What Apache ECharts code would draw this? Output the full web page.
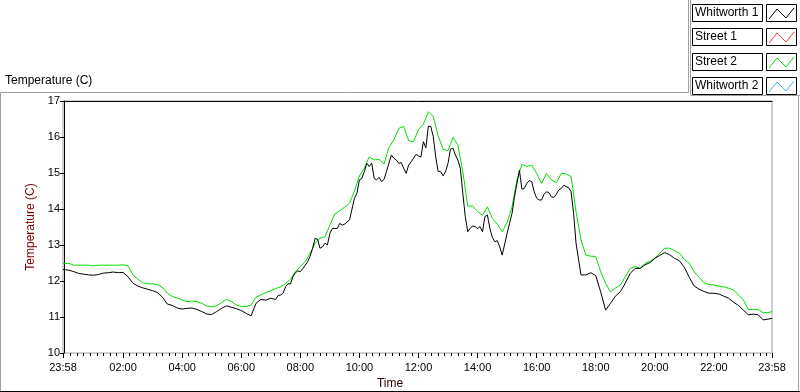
<!DOCTYPE html>
<html>
<head>
<meta charset="utf-8">
<script src="https://cdn.jsdelivr.net/npm/echarts@6/dist/echarts.min.js"></script>
<style>
html,body{margin:0;padding:0;background:#fff;}
#chart{width:800px;height:392px;}
</style>
</head>
<body>
<div id="chart"></div>
<script>
// Time in minutes after midnight (-2 = 23:58 of previous day, 1438 = 23:58)
const street2Times = [-2,0,10,20,30,40,50,60,70,80,90,100,110,120,130,140,150,160,170,180,190,200,210,220,230,240,250,260,270,280,290,300,310,320,330,340,350,360,370,380,390,400,410,420,430,440,450,460,470,480,490,500,510,520,530,540,550,560,570,580,590,600,610,620,630,640,650,660,670,680,690,700,710,720,730,740,750,760,770,780,790,800,810,820,830,840,850,860,870,880,890,900,910,920,930,940,950,960,970,980,990,1000,1010,1020,1030,1040,1050,1060,1070,1080,1090,1100,1110,1120,1130,1140,1150,1160,1170,1180,1190,1200,1210,1220,1230,1240,1250,1260,1270,1280,1290,1300,1310,1320,1330,1340,1350,1360,1370,1380,1390,1400,1410,1420,1430,1438];

const street2 = [12.49,
12.49,12.49,12.44,12.44,12.44,12.44,12.42,12.44,12.44,12.44,
12.44,12.44,12.45,12.42,12.17,12.05,11.95,11.92,11.92,11.90,
11.82,11.66,11.57,11.53,11.47,11.43,11.44,11.43,11.38,11.30,
11.29,11.31,11.40,11.49,11.43,11.33,11.29,11.29,11.33,11.55,
11.61,11.68,11.73,11.79,11.84,11.93,12.05,12.26,12.40,12.54,
12.77,13.05,13.19,13.23,13.55,13.86,13.95,14.05,14.16,14.50,
14.92,15.13,15.45,15.36,15.38,15.25,15.71,15.92,16.24,16.29,
15.90,15.87,16.21,16.36,16.70,16.57,16.03,15.66,15.62,15.99,
15.78,15.04,14.08,14.08,13.93,13.83,14.06,13.74,13.58,13.37,
13.62,14.06,14.81,15.24,15.18,15.22,14.99,14.71,14.99,14.81,
14.73,14.99,14.97,14.90,13.93,13.14,12.72,12.69,12.68,12.26,
11.94,11.70,11.80,11.89,12.12,12.35,12.40,12.35,12.49,12.55,
12.63,12.77,12.91,12.91,12.84,12.77,12.60,12.49,12.26,12.10,
11.95,11.90,11.89,11.86,11.84,11.80,11.75,11.61,11.47,11.21,
11.21,11.21,11.12,11.12,11.15];

// Whitworth 1: [minute, temperature] (denser where it is noisy)
const whitworth1 = [
[-2,12.32],[0,12.32],[10,12.30],[20,12.26],[30,12.21],[40,12.19],[50,12.17],[60,12.16],[70,12.18],[80,12.22],[90,12.23],
[100,12.25],[110,12.23],[120,12.24],[130,12.12],[140,11.94],[150,11.86],[160,11.81],[170,11.77],[180,11.73],[190,11.68],
[200,11.55],[210,11.36],[220,11.32],[230,11.25],[240,11.22],[250,11.24],[260,11.25],[270,11.21],[280,11.15],[290,11.08],
[300,11.07],[310,11.15],[320,11.24],[330,11.31],[340,11.27],[350,11.23],[360,11.18],[370,11.10],[380,11.03],[390,11.38],
[400,11.49],[410,11.47],[420,11.52],
[430,11.49],[435,11.60],[440,11.61],[445,11.66],[450,11.84],[455,11.92],[460,11.92],[465,12.12],[470,12.23],[475,12.28],
[480,12.26],[485,12.34],[490,12.44],[495,12.54],[500,12.69],[505,12.91],[510,13.18],[515,13.16],[520,12.91],[525,12.95],
[530,13.05],[535,13.00],[540,13.32],[545,13.46],[550,13.46],[555,13.46],[560,13.60],[565,13.55],[570,13.58],[580,13.70],
[590,14.30],[595,14.44],[600,14.81],[605,14.85],[610,15.04],[615,15.27],[620,15.18],[625,15.27],[630,14.85],[635,14.81],
[640,14.88],[645,14.76],[650,14.82],[655,15.04],[660,15.27],[665,15.50],[670,15.41],[675,15.36],[680,15.27],[685,15.29],
[690,15.13],[695,14.99],[700,15.22],[705,15.31],[710,15.41],[715,15.52],[720,15.47],[725,15.45],[730,15.87],[735,15.70],
[740,16.30],[745,16.29],[750,16.01],[755,15.45],[760,15.04],[765,15.04],[770,14.92],[775,15.04],[780,15.27],[785,15.66],
[790,15.69],[795,15.50],[800,15.36],[805,15.13],[810,14.44],[815,13.79],[820,13.37],[825,13.46],[830,13.53],[835,13.51],
[840,13.46],[845,13.51],[850,13.37],[855,13.79],[860,13.83],[865,13.46],[870,13.21],[875,13.09],[880,13.12],[885,12.95],
[890,12.72],[900,13.32],[905,13.60],[910,13.88],[915,14.34],[920,14.71],[925,15.08],[930,14.55],[935,14.57],[940,14.71],
[945,14.79],[950,14.76],[955,14.48],[960,14.30],[965,14.25],[970,14.25],[975,14.41],[980,14.48],[985,14.45],[990,14.34],
[995,14.32],[1000,14.41],[1005,14.53],[1010,14.57],[1015,14.66],[1020,14.62],[1025,14.59],[1030,14.48],[1035,13.88],[1040,13.05],
[1050,12.17],[1060,12.17],[1070,12.23],[1080,12.15],[1090,11.70],[1100,11.19],[1110,11.38],[1120,11.58],[1130,11.70],[1140,11.94],
[1150,12.21],[1160,12.35],[1170,12.35],[1180,12.45],[1190,12.51],[1200,12.63],[1210,12.71],[1220,12.79],[1230,12.73],[1240,12.63],
[1250,12.56],[1260,12.38],[1270,12.10],[1280,11.86],[1290,11.77],[1300,11.71],[1310,11.66],[1320,11.66],[1330,11.64],[1340,11.58],
[1350,11.52],[1360,11.41],[1370,11.32],[1380,11.19],[1390,11.06],[1400,11.08],[1410,11.06],[1420,10.92],[1430,10.94],[1438,10.96]
];

const street1 = [];
const whitworth2 = [];

const seriesNames = ['Whitworth 1', 'Street 1', 'Street 2', 'Whitworth 2'];
const seriesColors = ['#000000', '#e84040', '#00e000', '#40b0f0'];

// x tick labels (minutes after midnight)
const xTickValues = [-2,120,240,360,480,600,720,840,960,1080,1200,1320,1438];
const yTickValues = [10,11,12,13,14,15,16,17];

const minorTicks = [];
for (let v = 120; v > 5; v -= 120/9) minorTicks.push(v);
for (let v = 120; v < 1432; v += 120/9) minorTicks.push(v);

function fmtTime(v) {
  const m = ((Math.round(v) % 1440) + 1440) % 1440;
  const h = Math.floor(m / 60), mm = m % 60;
  return String(h).padStart(2, '0') + ':' + String(mm).padStart(2, '0');
}

const FONT = 'Liberation Sans';
const G = {left: 63, top: 101, right: 772, bottom: 353};

const legendGraphics = [];
seriesNames.forEach((name, i) => {
  const b = Math.round(4 + 24.3 * i);
  legendGraphics.push({type: 'rect', shape: {x: 692.5, y: b + 0.5, width: 70, height: 17},
    style: {fill: '#fff', stroke: '#000', lineWidth: 1}, silent: true});
  legendGraphics.push({type: 'text', x: 695, y: b + 9,
    style: {text: name, font: '12px "' + FONT + '"', fill: '#000', verticalAlign: 'middle'}, silent: true});
  legendGraphics.push({type: 'rect', shape: {x: 766.5, y: b + 0.5, width: 30, height: 17},
    style: {fill: '#fff', stroke: '#000', lineWidth: 1}, silent: true});
  legendGraphics.push({type: 'polyline', shape: {points: [[769, b + 15], [777, b + 5], [786, b + 14], [794, b + 4]]},
    style: {stroke: seriesColors[i], lineWidth: 1, fill: null}, silent: true});
});

const frameGraphics = [
  {type: 'polyline', shape: {points: [[0.5, 392], [0.5, 92.5], [688.5, 92.5], [688.5, 0]]},
    style: {stroke: '#a0a0a0', lineWidth: 1, fill: null}, silent: true},
  {type: 'polyline', shape: {points: [[690.5, 0], [690.5, 95.5], [800, 95.5]]},
    style: {stroke: '#a0a0a0', lineWidth: 1, fill: null}, silent: true},
  {type: 'line', shape: {x1: 798.5, y1: 95, x2: 798.5, y2: 392},
    style: {stroke: '#a0a0a0', lineWidth: 1}, silent: true},
  {type: 'line', shape: {x1: 0, y1: 391.5, x2: 800, y2: 391.5},
    style: {stroke: '#000', lineWidth: 1}, silent: true}
];

const chart = echarts.init(document.getElementById('chart'), null, {renderer: 'canvas'});

chart.setOption({
  animation: false,
  backgroundColor: '#fff',
  textStyle: {fontFamily: FONT},
  title: {
    text: 'Temperature (C)', left: 5, top: 75, padding: 0,
    textStyle: {fontSize: 12, fontWeight: 'normal', color: '#000', fontFamily: FONT}
  },
  grid: {left: G.left, top: G.top, width: G.right - G.left, height: G.bottom - G.top,
    outerBoundsMode: 'none', containLabel: false,
    show: true, borderColor: '#a0a0a0', borderWidth: 1, backgroundColor: '#fff'},
  xAxis: [
    {
      type: 'value', min: -2, max: 1438,
      name: 'Time', nameLocation: 'middle', nameGap: 25,
      nameTextStyle: {fontSize: 12, color: '#2a0000', fontFamily: FONT, padding: [0, 55, 0, 0]},
      axisLine: {show: false},
      axisTick: {show: true, customValues: xTickValues, length: 5, lineStyle: {color: '#000', width: 1}},
      axisLabel: {show: true, customValues: xTickValues, formatter: fmtTime, fontSize: 11, color: '#000', margin: 9, fontFamily: FONT},
      splitLine: {show: false}
    },
    {
      type: 'value', min: -2, max: 1438, position: 'bottom',
      axisLine: {show: false},
      axisTick: {show: true, customValues: minorTicks, length: 3, lineStyle: {color: '#000', width: 1}},
      axisLabel: {show: false},
      splitLine: {show: false}
    },
    {
      type: 'value', min: -2, max: 1438, position: 'top',
      axisLine: {show: true, lineStyle: {color: '#000', width: 1}},
      axisTick: {show: false}, axisLabel: {show: false}, splitLine: {show: false}
    }
  ],
  yAxis: {
    type: 'value', min: 10, max: 17, interval: 1,
    name: 'Temperature (C)', nameLocation: 'middle', nameGap: 23, nameRotate: 90,
    nameTextStyle: {fontSize: 12, color: '#7a0000', fontFamily: FONT},
    axisLine: {show: true, lineStyle: {color: '#000', width: 1}},
    axisTick: {show: true, length: 4, lineStyle: {color: '#000'}},
    axisLabel: {fontSize: 11, color: '#000', margin: 3, fontFamily: FONT,
      customValues: yTickValues},
    splitLine: {show: false}
  },
  series: [
    {name: seriesNames[1], type: 'line', data: street1, showSymbol: false,
      lineStyle: {color: seriesColors[1], width: 1}, itemStyle: {color: seriesColors[1]}},
    {name: seriesNames[3], type: 'line', data: whitworth2, showSymbol: false,
      lineStyle: {color: seriesColors[3], width: 1}, itemStyle: {color: seriesColors[3]}},
    {name: seriesNames[2], type: 'line', data: street2.map((v, i) => [street2Times[i], v]), showSymbol: false,
      lineStyle: {color: seriesColors[2], width: 1}, itemStyle: {color: seriesColors[2]}},
    {name: seriesNames[0], type: 'line', data: whitworth1, showSymbol: false,
      lineStyle: {color: seriesColors[0], width: 1}, itemStyle: {color: seriesColors[0]}}
  ],
  graphic: frameGraphics.concat(legendGraphics)
});
</script>
</body>
</html>
